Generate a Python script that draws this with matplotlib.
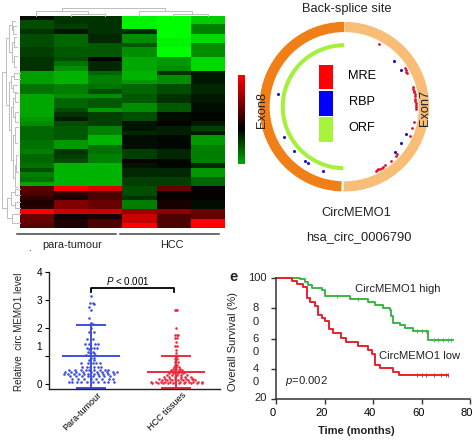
import numpy as np
import matplotlib
matplotlib.use("Agg")
import matplotlib.pyplot as plt
from matplotlib.colors import LinearSegmentedColormap
from matplotlib.transforms import ScaledTranslation

plt.rcParams['font.family'] = ['Liberation Sans', 'DejaVu Sans']
plt.rcParams['mathtext.fontset'] = 'custom'
plt.rcParams['mathtext.it'] = 'Liberation Sans:italic'
plt.rcParams['mathtext.rm'] = 'Liberation Sans'

W, H = 474, 444

# heatmap columns, top row to bottom row (green < 0 < red)
para_1 = [-.05, -.3, -.3, -.2, -.3, -.3, -.3, -.25, -.25, -.2, -.2, -.2, -.62, -.62, -.62, -.45, -.45, -.65, -.65, -.65, -.65, -.65, -.6, -.55, -.4, -.4, -.4, -.45, -.45, -.5, -.4, -.4, -.45, -.3, -.5, -.45, -.65, .35, .3, .2, .12, .15, 1, .4, .4, .35]
para_2 = [-.2, -.2, -.25, -.08, -.4, -.4, -.4, -.35, -.35, -.3, -.45, -.55, -.7, -.7, -.7, -.5, -.5, -.55, -.4, -.4, -.3, -.2, -.1, -.3, -.35, -.35, -.35, -.6, -.6, -.2, -.25, -.3, -.7, -.7, -.7, -.7, -.7, 1, .2, .1, .5, .5, .8, .05, .12, .12]
para_3 = [-.2, -.2, -.2, -.2, -.15, -.15, -.35, -.35, -.35, -.02, -.15, -.15, -.4, -.5, -.5, -.45, -.3, -.55, -.35, -.35, -.6, -.25, -.25, -.25, -.5, -.5, -.7, -.7, -.45, -.45, -.5, -.5, -.7, -.7, -.7, -.7, -.7, .85, .3, .3, .4, .4, .8, .1, .3, .3]
hcc_1 = [-.95, -.95, -.95, -.15, -.55, -.55, -.35, -.55, -.55, -.65, -.65, -.65, -.7, -.7, -.6, -.4, -.4, -.35, -.35, -.55, -.55, -.3, -.3, -.08, -.08, -.15, -.05, -.05, -.05, -.25, -.25, .05, -.08, -.15, -.15, -.25, -.25, -.3, -.3, -.2, -.5, -.5, .6, .8, .75, 1]
hcc_2 = [-1, -1, -1, -1, -1, -.95, -.95, -1, -1, -.6, -.6, -.55, -.2, -.55, -.55, -.3, -.3, -.2, -.2, -.35, -.35, -.05, -.05, .02, -.12, -.12, -.03, -.03, -.03, -.15, -.15, -.03, -.03, -.15, -.15, -.25, -.25, .4, .02, .02, .1, .1, .55, .3, .3, .3]
hcc_3 = [-.8, -.8, -.5, -.5, -.85, -.85, -.55, -.55, -.55, -.85, -.85, -.85, -.1, -.1, -.1, -.15, -.15, -.1, -.1, -.05, -.05, -.02, -.02, -.1, -.25, -.1, -.6, -.6, -.5, -.5, -.5, -.5, -.15, -.6, -.6, -.4, -.4, .02, .02, .02, -.05, -.05, .4, .4, 1, 1]

# dendrograms: (outer, start, end, inner at start, inner at end)
dendro_top = [(8, 62, 165, 11, 11), (11, 36, 88, 16, 13.7), (13.7, 71, 105, 16, 16),
              (11, 139, 192, 16, 13.7), (13.7, 173, 208, 16, 16)]
dendro_left = [(2, 72, 208, 6, 7), (6, 38, 105, 9, 9), (9, 25, 52, 12, 12), (12, 21, 30, 15, 13),
               (13, 26, 34, 16, 16), (12, 42, 62, 14, 14), (14, 37, 47, 16, 17), (14, 56, 67, 17, 16),
               (9, 82, 130, 11, 11), (11, 76, 88, 14, 13), (14, 73, 79, 20, 20), (13, 85, 92, 17, 16),
               (11, 107, 160, 13, 13), (13, 98, 117, 15, 15), (15, 93, 102, 18, 18), (15, 112, 122, 18, 18),
               (13, 135, 178, 15, 15), (15, 127, 143, 18, 17), (15, 165, 187, 16, 17), (16, 155, 172, 18, 18),
               (7, 198, 218, 11, 12), (11, 192, 205, 15, 15), (15, 189, 195, 20, 20), (15, 202, 208, 20, 20),
               (12, 214, 223, 20, 20)]

# circle tracks, angle in degrees clockwise from the back-splice site
mre_angle = [28.7, 57.5, 59, 60.5, 62, 74, 75.5, 77, 78.5, 80, 81.5, 84, 85.5, 87, 88.5, 90, 92, 102, 107.6, 114, 132, 134, 139.5, 145.4, 147, 148.5, 150, 151.5, 153, 154]
mre_radius = [.84] * len(mre_angle)
rbp_angle = [47.4, 57.5, 114, 122.7, 131.4, 198, 213, 215.7, 228.6, 243.7, 281]
rbp_radius = [.79, .795, .80, .797, .80, .796, .794, .79, .794, .796, .79]
legend_labels = ['MRE', 'RBP', 'ORF']
legend_colors = ['#FF0000', '#0000FF', '#A6F53C']

# expression scatter: (level, offsets from the group centre)
para_rows = [(3.15, [0]), (2.9, [-.01, .02]), (2.85, [.03]), (2.75, [-.02]), (2.65, [0]), (2.35, [-.02]),
             (2.2, [0]), (2.15, [-.01, .02]), (2.0, [0]), (1.85, [-.02, .03]), (1.6, [-.05, .02]),
             (1.45, [-.07, -.02, .05, .08]), (1.3, [-.05, 0, .04, .07]), (1.25, [-.02]), (1.15, [-.03, .02]),
             (1.1, [-.01, .03]), (1.05, [-.06, .05]), (.95, [0, .03]), (.85, [-.02, .03]),
             (.75, [-.12, -.04, .02, .06, .1]), (.6, [-.1, -.05, -.01, .03, .08, .12]),
             (.5, [-.26, -.19, -.12, -.06, -.02, .04, .1, .16, .2]),
             (.45, [-.3, -.23, -.17, -.09, 0, .07, .13, .19, .26, .3]),
             (.35, [-.32, -.27, -.2, -.14, -.08, -.03, .03, .08, .14, .2, .27]),
             (.28, [-.25, -.17, -.11, -.04, .02, .09, .15, .22]),
             (.18, [-.22, -.15, -.08, 0, .06, .13, .21, .26]),
             (.08, [-.26, -.22, -.16, -.12, -.05, .02, .08, .15, .2, .27])]
hcc_rows = [(2.65, [-.01, 0, .01]), (2.02, [0]), (1.76, [-.02, .01, .02]), (1.65, [-.01, .01]), (1.5, [0]),
            (1.35, [-.01, .01]), (1.23, [0]), (1.1, [0]), (1.0, [0, .01]), (.9, [-.01, .01]), (.8, [-.01, .02]),
            (.7, [-.01, .01]), (.62, [-.03, 0, .03]), (.55, [-.04, 0, .04]), (.5, [-.06, -.01, .03, .07]),
            (.45, [-.08, -.03, .02, .06, .1]), (.4, [-.09, -.04, .02, .08]), (.33, [-.11, -.05, .01, .06, .12]),
            (.27, [-.14, -.08, -.02, .05, .1, .17]), (.2, [-.2, -.13, -.07, -.01, .05, .11, .18, .2]),
            (.15, [-.17, -.11, -.05, .02, .08, .14, .22]),
            (.08, [-.3, -.24, -.18, -.13, -.07, -.02, .04, .1, .15, .2, .26, .3]),
            (.03, [-.28, -.22, -.16, -.1, -.04, .03, .09, .17, .24, .3])]
group_names = ['Para-tumour', 'HCC tissues']
group_mean = [1.0, .44]
group_top = [2.13, 1.0]
group_bottom = [-.13, -.12]
group_colors = ['#3F4FE0', '#EE2A3A']

# survival curves
high_t = [0, 10, 12, 13, 14.7, 18.8, 20.2, 30.5, 38, 40.8, 44.3, 47, 47.3, 48.4, 51, 53, 56.6, 62.8, 73]
high_s = [100, 99.6, 97.8, 95.6, 93.4, 92.3, 88.5, 86.3, 84.1, 82.3, 80.6, 79, 75.2, 70.6, 69, 66.9, 64.9, 58.9, 58.9]
low_t = [0, 6.5, 8.8, 11.3, 12.9, 14, 16, 17.2, 18.8, 20.2, 22, 23.6, 26.7, 28.9, 34, 37.8, 39.5, 40.8, 42.9, 48.1, 50.9, 71]
low_s = [100, 98.2, 96.2, 94.5, 86.7, 84, 81.9, 75.7, 73.9, 71.7, 66.4, 63.5, 60.2, 57.6, 55.4, 52.5, 49.6, 42.5, 40.3, 38.1, 35.9, 35.9]
high_cens_t = [25, 34, 58, 60, 62, 65, 67, 69, 71, 72]
high_cens_s = [88.5, 86.3, 64.9, 64.9, 64.9, 58.9, 58.9, 58.9, 58.9, 58.9]
low_cens_t = [58, 60, 62, 65, 68, 70, 71]
low_cens_s = [35.9] * 7


def px_axes(fig, x0, x1, y0, y1, **kw):
    return fig.add_axes([x0 / W, 1 - y1 / H, (x1 - x0) / W, (y1 - y0) / H], **kw)


fig = plt.figure(figsize=(W / 100, H / 100), dpi=100)
gr = LinearSegmentedColormap.from_list('gr', ['#00FF00', '#000000', '#FF0000'])

# heatmap
ax = px_axes(fig, 20, 225, 16, 228.5)
heat = np.array([para_1, para_2, para_3, hcc_1, hcc_2, hcc_3]).T
ax.imshow(heat, cmap=gr, vmin=-1, vmax=1, aspect='auto', interpolation='nearest')
ax.axis('off')

# colour key
ax = px_axes(fig, 238, 245, 75, 164)
ax.imshow(np.linspace(1, -.65, 90).reshape(-1, 1), cmap=gr, vmin=-1, vmax=1, aspect='auto')
ax.axis('off')

# circle
ax = px_axes(fig, 259.3, 429.3, 21.7, 191.7, projection='polar')
ax.set_theta_zero_location('N')
ax.set_theta_direction(-1)
ax.set_ylim(0, 1)
ax.axis('off')
ax.bar(np.deg2rad(90.5), .122, width=np.deg2rad(180), bottom=.878, color='#F8BE78', linewidth=0)
ax.bar(np.deg2rad(271), .122, width=np.deg2rad(178), bottom=.878, color='#F07F17', linewidth=0)
ax.bar(np.deg2rad(270.5), .048, width=np.deg2rad(179), bottom=.70, color='#A6F03C', linewidth=0)
ax.scatter(np.deg2rad(mre_angle), mre_radius, s=4, color='#E3122C', linewidth=0, zorder=3)
ax.scatter(np.deg2rad(rbp_angle), rbp_radius, s=5, color='#1515D0', linewidth=0, zorder=3)

# expression scatter
ax = px_axes(fig, 49, 220, 272.3, 389.3)
ax.set_xlim(-.492, 1.512)
ax.set_ylim(-.18, 4)
for i, rows in enumerate([para_rows, hcc_rows]):
    xs = [i + o for lev, offs in rows for o in offs]
    ys = [lev for lev, offs in rows for o in offs]
    c = group_colors[i]
    ax.scatter(xs, ys, s=3.5, color=c, linewidth=0, zorder=3)
    ax.plot([i, i], [group_bottom[i], group_top[i]], color=c, lw=1.4)
    ax.plot([i - .33, i + .33], [group_mean[i]] * 2, color=c, lw=1.4)
    for cap in (group_top[i], group_bottom[i]):
        ax.plot([i - .164, i + .164], [cap, cap], color=c, lw=1.4, clip_on=False)
ax.plot([0, 0, .97, .97], [3.28, 3.43, 3.43, 3.28], color='k', lw=1.3)
ax.text(.43, 3.68, r'$\mathit{P}$ < 0.001', ha='center', va='center', fontsize=7)
for s in ['top', 'right']:
    ax.spines[s].set_visible(False)
for s in ['left', 'bottom']:
    ax.spines[s].set_color('#222222')
    ax.spines[s].set_linewidth(1)
ax.set_yticks([0, 1, 2, 3, 4], ['0', '1', '2', '3', '4'], fontsize=7.2)
ax.set_xticks([0, 1], group_names, fontsize=6.5, rotation=45, ha='right', rotation_mode='anchor')
ax.tick_params(axis='x', length=0, pad=1)
ax.tick_params(axis='y', length=3, width=.8, pad=2)
lab = ax.get_yticklabels()[1]
lab.set_transform(lab.get_transform() + ScaledTranslation(0, 7.4 / 72, fig.dpi_scale_trans))
for lab in ax.get_xticklabels():
    lab.set_transform(lab.get_transform() + ScaledTranslation(4 / 72, 0, fig.dpi_scale_trans))

# survival
ax = px_axes(fig, 276, 470, 278.3, 399)
ax.set_xlim(0, 80)
ax.set_ylim(20, 100)
ax.step(high_t, high_s, where='post', color='#3DB54A', lw=1.4, clip_on=False)
ax.step(low_t, low_s, where='post', color='#E8212E', lw=1.4, clip_on=False)
ax.plot(high_cens_t, high_cens_s, '|', color='#3DB54A', ms=2.5, mew=.6)
ax.plot(low_cens_t, low_cens_s, '|', color='#E8212E', ms=2.5, mew=.6)
for s in ['top', 'right']:
    ax.spines[s].set_visible(False)
for s in ['left', 'bottom']:
    ax.spines[s].set_color('#333333')
    ax.spines[s].set_linewidth(1.1)
ax.set_yticks([100, 80, 60, 40, 20], [])
ax.set_xticks([0, 20, 40, 60, 80], ['0', '20', '40', '60', '80'], fontsize=8)
ax.tick_params(length=3.6, width=1, color='#333333')
ax.tick_params(axis='x', pad=3)
for lab in ax.get_xticklabels():
    lab.set_transform(lab.get_transform() + ScaledTranslation(-2.2 / 72, 0, fig.dpi_scale_trans))

# everything placed by pixel on top
pix = px_axes(fig, 0, W, 0, H)
pix.set_xlim(0, W)
pix.set_ylim(H, 0)
pix.axis('off')
pix.patch.set_alpha(0)
for outer, a, b, ia, ib in dendro_top:
    pix.plot([a, a, b, b], [ia, outer, outer, ib], color='#BDBDBD', lw=.7)
for outer, a, b, ia, ib in dendro_left:
    pix.plot([ia, outer, outer, ib], [a, a, b, b], color='#BDBDBD', lw=.7)
pix.plot([17, 116], [234, 234], color='#444444', lw=1.1)
pix.plot([120, 219], [234, 234], color='#444444', lw=1.1)
for i, (name, col) in enumerate(zip(legend_labels, legend_colors)):
    y0 = 65 + 26.2 * i
    pix.fill([319.5, 333.5, 333.5, 319.5], [y0, y0, y0 + 24.5, y0 + 24.5], color=col, lw=0)
    pix.text(362, y0 + 11, name, ha='center', va='center', fontsize=9.2)

for x, y, s, size, kw in [
    (72, 245, 'para-tumour', 7.8, {}),
    (172, 245, 'HCC', 7.8, {}),
    (29, 248, '.', 7, {}),
    (346.7, 9.3, 'Back-splice site', 9.3, {}),
    (356.7, 212.7, 'CircMEMO1', 9.3, {}),
    (359, 236.7, 'hsa_circ_0006790', 9.3, {}),
    (261.7, 110, 'Exon8', 9.2, {'rotation': 90}),
    (425, 108, 'Exon7', 9.2, {'rotation': 90}),
    (19, 332, 'Relative  circ MEMO1 level', 7.1, {'rotation': 90}),
    (233, 341, 'Overall Survival (%)', 8, {'rotation': 90}),
    (356.7, 430.7, 'Time (months)', 8, {'fontweight': 'bold'}),
    (234, 276.5, 'e', 10.5, {'fontweight': 'bold'}),
    (257.5, 278, '100', 8, {}),
    (255.6, 308, '8', 8, {}),
    (255.6, 321.7, '0', 8, {}),
    (255.6, 339, '6', 8, {}),
    (255.6, 352.3, '0', 8, {}),
    (255.6, 369, '4', 8, {}),
    (255.6, 382.3, '0', 8, {}),
    (260.5, 397.7, '20', 8, {}),
]:
    pix.text(x, y, s, ha='center', va='center', fontsize=size, color='#222222', **kw)
pix.text(355, 288.7, 'CircMEMO1 high', ha='left', va='center', fontsize=8.1, color='#222222')
pix.text(379.5, 355.7, 'CircMEMO1 low', ha='left', va='center', fontsize=8.1, color='#222222')
pix.text(285.5, 381, r'$\mathit{p}$=0.002', ha='left', va='center', fontsize=8.1, color='#222222')

fig.savefig('out.png', dpi=100)
